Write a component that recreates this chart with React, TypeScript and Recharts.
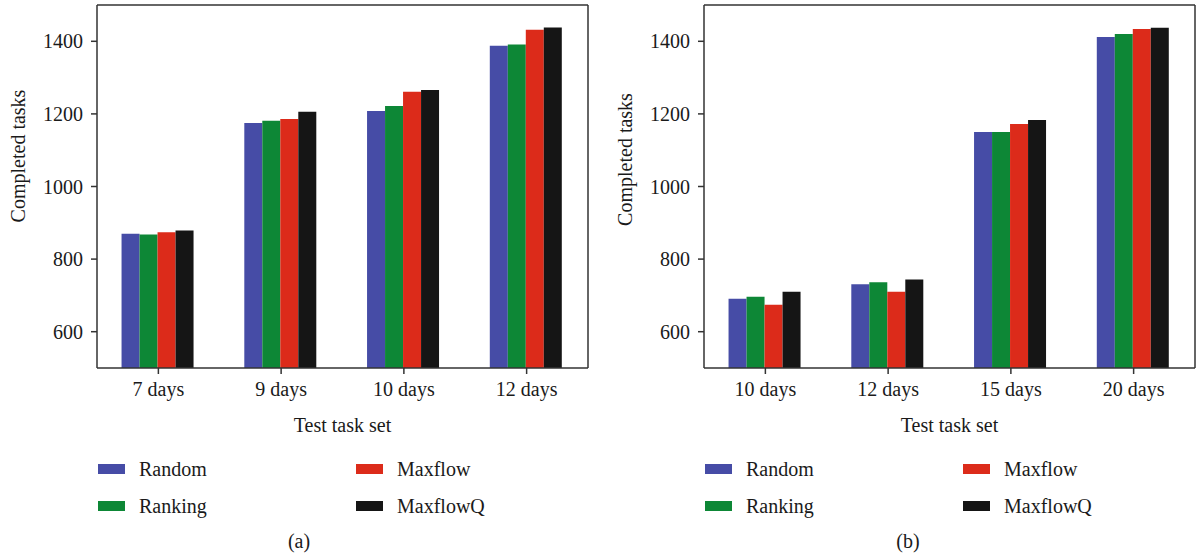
import { Bar, BarChart, XAxis, YAxis } from "recharts";

const categoriesA = ["7 days", "9 days", "10 days", "12 days"];
const randomA = [870, 1175, 1208, 1388];
const rankingA = [868, 1181, 1222, 1391];
const maxflowA = [874, 1186, 1261, 1432];
const maxflowQA = [879, 1206, 1266, 1438];

const categoriesB = ["10 days", "12 days", "15 days", "20 days"];
const randomB = [691, 731, 1150, 1412];
const rankingB = [696, 736, 1150, 1420];
const maxflowB = [674, 710, 1172, 1434];
const maxflowQB = [710, 744, 1183, 1437];

const yTicks = [600, 800, 1000, 1200, 1400];

const series = [
  { key: "random", name: "Random", color: "#464ca6" },
  { key: "ranking", name: "Ranking", color: "#0d8736" },
  { key: "maxflow", name: "Maxflow", color: "#dc2b1a" },
  { key: "maxflowQ", name: "MaxflowQ", color: "#151515" },
];

const FONT = '"Liberation Serif", "Times New Roman", serif';
const AXIS = "#333";

function buildRows(cats: string[], r: number[], k: number[], m: number[], q: number[]) {
  return cats.map((c, i) => ({ cat: c, random: r[i], ranking: k[i], maxflow: m[i], maxflowQ: q[i] }));
}

interface PanelProps {
  data: ReturnType<typeof buildRows>;
  left: number;
  width: number;
  axisWidth: number;
  rightMargin: number;
  tag: string;
  tagX: number;
}

function Panel({ data, left, width, axisWidth, rightMargin, tag, tagX }: PanelProps) {
  const tickStyle = { fill: "#1a1a1a", fontSize: 20, fontFamily: FONT };
  return (
    <div style={{ position: "absolute", left, top: 0, width, height: 559 }}>
      <BarChart
        width={width}
        height={440}
        data={data}
        margin={{ top: 4, right: rightMargin - 1, left: 0, bottom: 0 }}
        barCategoryGap="20%"
        barGap={0}
      >
        <XAxis
          dataKey="cat"
          height={72}
          tick={tickStyle}
          tickSize={6}
          tickMargin={8}
          stroke={AXIS}
          strokeWidth={1.5}
          label={{
            value: "Test task set",
            position: "insideBottom",
            offset: 8,
            fill: "#1a1a1a",
            fontSize: 20,
            fontFamily: FONT,
          }}
        />
        <XAxis
          xAxisId="top"
          dataKey="cat"
          orientation="top"
          height={1}
          tick={false}
          tickLine={false}
          stroke={AXIS}
          strokeWidth={1.5}
        />
        <YAxis
          domain={[500, 1500]}
          ticks={yTicks}
          width={axisWidth}
          tick={tickStyle}
          tickSize={6}
          tickMargin={8}
          stroke={AXIS}
          strokeWidth={1.5}
          label={
            <text
              x={axisWidth - 79}
              y={186.5}
              transform={`rotate(-90 ${axisWidth - 79} 186.5)`}
              textAnchor="middle"
              dominantBaseline="central"
              fill="#1a1a1a"
              fontSize={20}
              fontFamily={FONT}
            >
              Completed tasks
            </text>
          }
        />
        <YAxis
          yAxisId="right"
          orientation="right"
          domain={[500, 1500]}
          width={1}
          tick={false}
          tickLine={false}
          stroke={AXIS}
          strokeWidth={1.5}
        />
        {series.map((s) => (
          <Bar key={s.key} dataKey={s.key} name={s.name} fill={s.color} isAnimationActive={false} />
        ))}
      </BarChart>
      {series.map((s, i) => {
        const col = i < 2 ? 0 : 1;
        const row = i % 2;
        return (
          <div
            key={s.key}
            style={{
              position: "absolute",
              left: axisWidth + 1 + col * 258,
              top: 469 + row * 37 - 12,
              height: 24,
              display: "flex",
              alignItems: "center",
              fontFamily: FONT,
              fontSize: 20,
              color: "#1a1a1a",
            }}
          >
            <span style={{ display: "inline-block", width: 27, height: 10, background: s.color, marginRight: 14 }} />
            {s.name}
          </div>
        );
      })}
      <div
        style={{
          position: "absolute",
          left: tagX - 30,
          width: 60,
          top: 530,
          textAlign: "center",
          fontFamily: FONT,
          fontSize: 20,
          color: "#1a1a1a",
        }}
      >
        {tag}
      </div>
    </div>
  );
}

export default function App() {
  const dataA = buildRows(categoriesA, randomA, rankingA, maxflowA, maxflowQA);
  const dataB = buildRows(categoriesB, randomB, rankingB, maxflowB, maxflowQB);
  return (
    <div style={{ position: "absolute", left: 0, top: 0, width: 1201, height: 559, background: "#fff" }}>
      <Panel data={dataA} left={0} width={600} axisWidth={97} rightMargin={12} tag="(a)" tagX={299} />
      <Panel data={dataB} left={600} width={601} axisWidth={104} rightMargin={6} tag="(b)" tagX={308} />
    </div>
  );
}
